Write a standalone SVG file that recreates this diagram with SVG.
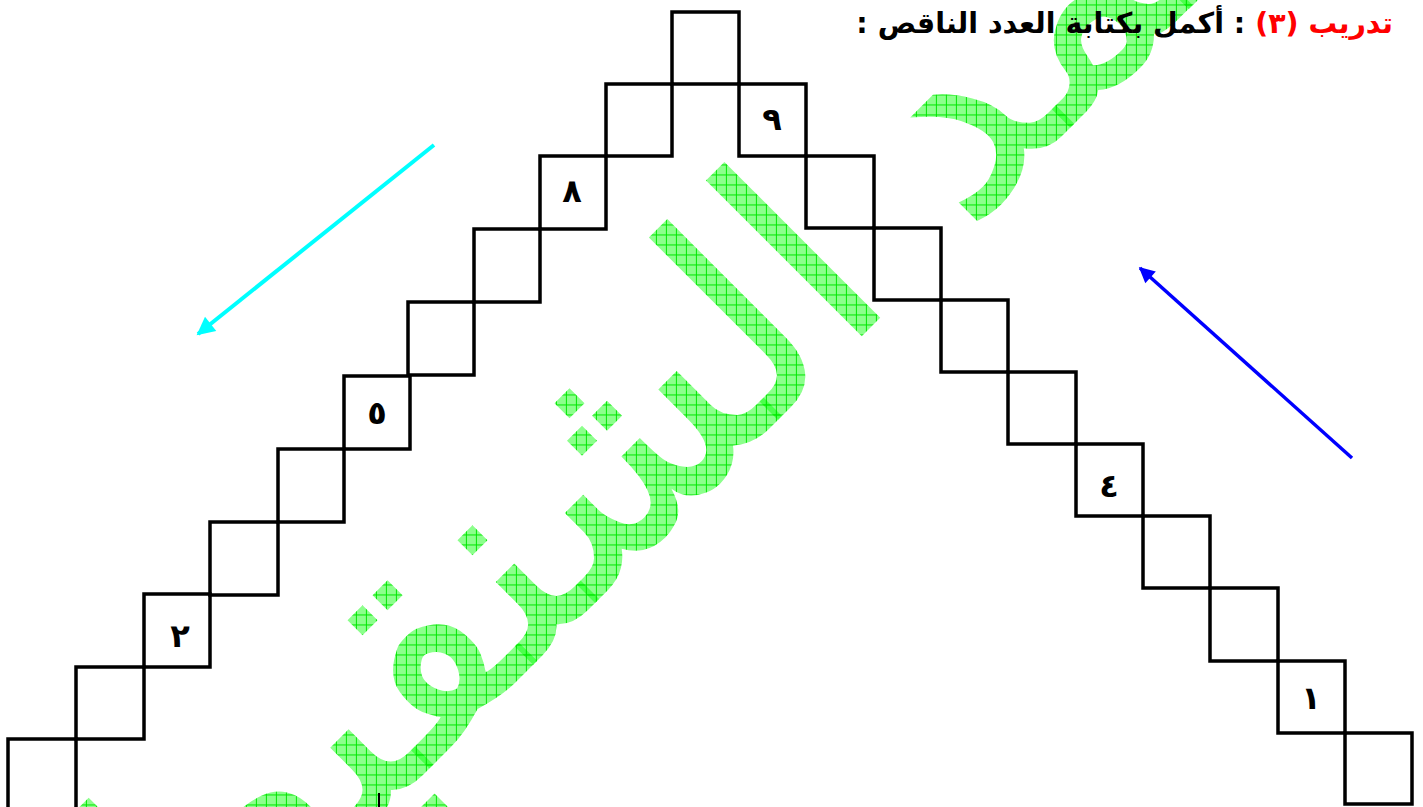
<svg xmlns="http://www.w3.org/2000/svg" width="1423" height="807" viewBox="0 0 1423 807">
<style>
.sq{fill:none;stroke:#000;stroke-width:3.5}
.num{font-family:"DejaVu Sans",sans-serif;font-weight:bold;font-size:32px;fill:#000;text-anchor:middle}
.title{font-family:"DejaVu Sans",sans-serif;font-weight:bold;font-size:28.5px}
.wm{font-family:"DejaVu Sans",sans-serif;font-size:290px;fill:url(#hatch)}
</style>
<defs>
<pattern id="hatch" width="10" height="10" patternUnits="userSpaceOnUse" patternTransform="rotate(45)">
<rect width="10" height="10" fill="#00ff00" fill-opacity="0.45"/>
<path d="M0 0.5H10M0.5 0V10" stroke="#00e600" stroke-width="1"/>
</pattern>
<marker id="ahCyan" viewBox="0 0 10 10" refX="9" refY="5" markerWidth="5" markerHeight="4.5" orient="auto" markerUnits="strokeWidth"><path d="M0 0L10 5L0 10z" fill="#00ffff"/></marker>
<marker id="ahBlue" viewBox="0 0 10 10" refX="9" refY="5" markerWidth="5" markerHeight="4.5" orient="auto" markerUnits="strokeWidth"><path d="M0 0L10 5L0 10z" fill="#0000ff"/></marker>
</defs>
<rect width="1423" height="807" fill="#fff"/>
<g id="watermark">
<text class="wm" x="1433" y="-235" direction="rtl" text-anchor="start" transform="rotate(-45 1433 -235)">محمد الشنقيطي</text>
</g>
<g id="title">
<text class="title" x="1393" y="33" direction="rtl" text-anchor="start"><tspan fill="#ff0000">تدريب (٣)</tspan><tspan fill="#000"> : أكمل بكتابة العدد الناقص :</tspan></text>
</g>
<g id="top"><rect class="sq" x="672" y="12" width="67" height="72"/></g>
<g id="left1"><rect class="sq" x="606" y="84" width="66" height="72"/></g>
<g id="left2"><rect class="sq" x="540" y="156" width="66" height="73"/><text class="num" x="572" y="202">٨</text></g>
<g id="left3"><rect class="sq" x="474" y="229" width="66" height="73"/></g>
<g id="left4"><rect class="sq" x="408" y="302" width="66" height="73"/></g>
<g id="left5"><rect class="sq" x="344" y="376" width="66" height="73"/><text class="num" x="377" y="424">٥</text></g>
<g id="left6"><rect class="sq" x="278" y="449" width="66" height="73"/></g>
<g id="left7"><rect class="sq" x="210" y="522" width="68" height="73"/></g>
<g id="left8"><rect class="sq" x="144" y="594" width="66" height="73"/><text class="num" x="180" y="647">٢</text></g>
<g id="left9"><rect class="sq" x="76" y="667" width="68" height="72"/></g>
<g id="left10"><rect class="sq" x="8" y="739" width="68" height="73"/></g>
<g id="right1"><rect class="sq" x="739" y="84" width="67" height="72"/><text class="num" x="772" y="130">٩</text></g>
<g id="right2"><rect class="sq" x="806" y="156" width="68" height="72"/></g>
<g id="right3"><rect class="sq" x="874" y="228" width="67" height="72"/></g>
<g id="right4"><rect class="sq" x="941" y="300" width="67" height="72"/></g>
<g id="right5"><rect class="sq" x="1008" y="372" width="68" height="72"/></g>
<g id="right6"><rect class="sq" x="1076" y="444" width="67" height="72"/><text class="num" x="1109" y="497">٤</text></g>
<g id="right7"><rect class="sq" x="1143" y="516" width="67" height="72"/></g>
<g id="right8"><rect class="sq" x="1210" y="588" width="68" height="73"/></g>
<g id="right9"><rect class="sq" x="1278" y="661" width="67" height="72"/><text class="num" x="1311" y="709">١</text></g>
<g id="right10"><rect class="sq" x="1345" y="733" width="67" height="71"/></g>
<g id="connectors">
<line x1="434" y1="145" x2="198" y2="334" stroke="#00ffff" stroke-width="4" marker-end="url(#ahCyan)"/>
<line x1="1352" y1="458" x2="1140" y2="268" stroke="#0000ff" stroke-width="3.5" marker-end="url(#ahBlue)"/>
</g>
<line x1="379" y1="793" x2="379" y2="807" stroke="#000" stroke-width="2"/>
</svg>
